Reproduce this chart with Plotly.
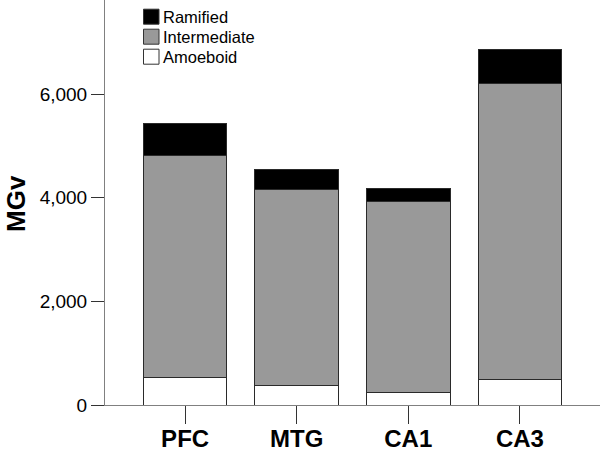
import plotly.graph_objects as go

categories = ["PFC", "MTG", "CA1", "CA3"]
amoeboid = [530, 380, 240, 500]
intermediate = [4290, 3780, 3690, 5700]
ramified = [620, 390, 260, 670]
series_names = ["Ramified", "Intermediate", "Amoeboid"]
y_ticks = [0, 2000, 4000, 6000]
y_tick_labels = ["0", "2,000", "4,000", "6,000"]

FONT = "Arial, 'Liberation Sans', sans-serif"
edge = dict(color="#2a2a2a", width=1)

fig = go.Figure()
fig.add_trace(go.Bar(x=categories, y=amoeboid, name="Amoeboid",
                     marker=dict(color="#ffffff", line=edge), showlegend=False))
fig.add_trace(go.Bar(x=categories, y=intermediate, name="Intermediate",
                     marker=dict(color="#999999", line=edge), showlegend=False))
fig.add_trace(go.Bar(x=categories, y=ramified, name="Ramified",
                     marker=dict(color="#000000", line=edge), showlegend=False))

W, H = 600, 452
ml, mr, mt, mb = 105, 0, 0, 47
pw, ph = W - ml - mr, H - mt - mb
def px(x):
    return (x - ml) / pw
def py(y):
    return 1 - (y - mt) / ph

swatch_colors = {"Ramified": "#000000", "Intermediate": "#999999", "Amoeboid": "#ffffff"}
shapes = []
annotations = []
for i, nm in enumerate(series_names):
    yc = 16.7 + 20 * i
    shapes.append(dict(type="rect", xref="paper", yref="paper",
                       x0=px(143.5), x1=px(159), y0=py(yc - 7.5), y1=py(yc + 7.5),
                       fillcolor=swatch_colors[nm], line=dict(color="#333333", width=1)))
    annotations.append(dict(xref="paper", yref="paper", x=px(161), y=py(yc),
                            xanchor="left", yanchor="middle", showarrow=False,
                            text=nm, font=dict(family=FONT, size=16.5, color="#000000")))

annotations.append(dict(xref="paper", yref="paper", x=px(16), y=py(204),
                        xanchor="center", yanchor="middle", showarrow=False,
                        text="<b>MGv</b>", textangle=-90,
                        font=dict(family=FONT, size=26, color="#000000")))

fig.update_layout(
    width=W, height=H,
    margin=dict(l=ml, r=mr, t=mt, b=mb, autoexpand=False),
    barmode="stack", bargap=0.25,
    plot_bgcolor="#ffffff", paper_bgcolor="#ffffff",
    shapes=shapes, annotations=annotations,
    font=dict(family=FONT, color="#000000"),
)
fig.update_xaxes(
    range=[-0.718, 3.718], showgrid=False, zeroline=False,
    showline=True, linecolor="#808080", linewidth=1,
    ticks="outside", ticklen=18, tickcolor="#333333", tickwidth=1,
    tickfont=dict(family=FONT, size=24, color="#000000"),
    tickprefix="<b>", ticksuffix="</b>", automargin=False,
    ticklabelstandoff=-6,
)
fig.update_yaxes(
    range=[0, 7820], showgrid=False, zeroline=False,
    showline=True, linecolor="#808080", linewidth=1,
    ticks="outside", ticklen=13, tickcolor="#333333", tickwidth=1,
    tickvals=y_ticks, ticktext=y_tick_labels,
    tickfont=dict(family=FONT, size=19, color="#000000"), automargin=False,
)
fig.write_html("out.html", config={"displayModeBar": False},
               post_script="document.body.style.margin='0';document.body.style.padding='0';document.body.style.overflow='hidden';")
